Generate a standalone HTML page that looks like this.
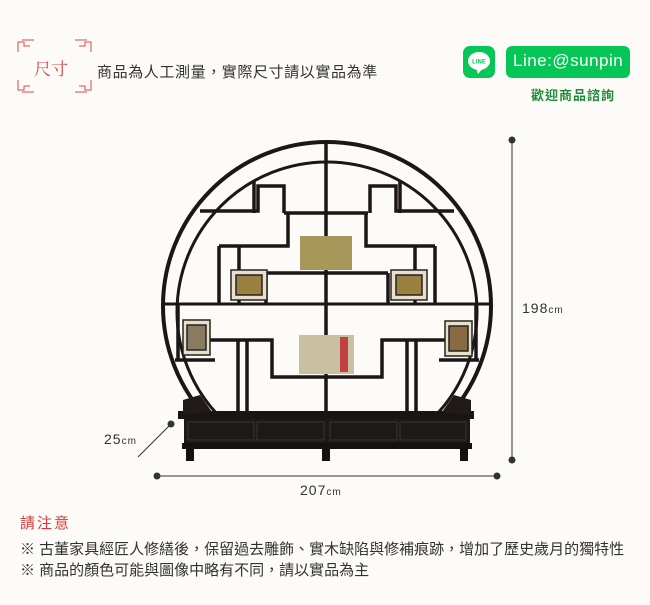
<!DOCTYPE html>
<html><head><meta charset="utf-8"><style>
body{margin:0;width:650px;height:605px;background:#fdfbf7;font-family:"Liberation Sans","Noto Sans CJK TC",sans-serif;position:relative;overflow:hidden}
.t{position:absolute;white-space:nowrap}
</style></head><body>
<svg width="650" height="605" style="position:absolute;left:0;top:0">
<g stroke="#e0434a" stroke-width="1" fill="none">
<path d="M18 52 V42 H24 V46 H30 M22 40 H34"/>
<path d="M91 52 V42 H85 V46 H79 M87 40 H75"/>
<path d="M18 80 V90 H24 V86 H30 M22 92 H34"/>
<path d="M91 80 V90 H85 V86 H79 M87 92 H75"/>
</g>
<text x="34" y="75" font-family="'Noto Serif CJK SC',serif" font-size="17" fill="#d44">尺寸</text>
<rect x="463" y="46" width="32" height="32" rx="7" fill="#06c755"/>
<ellipse cx="479" cy="61" rx="11" ry="9" fill="#fff"/>
<path d="M476 68 L478 74 L483 68Z" fill="#fff"/>
<text x="479" y="63.5" font-size="6" font-weight="bold" fill="#06c755" text-anchor="middle">LINE</text>
<rect x="506" y="46" width="124" height="32" rx="6" fill="#06c755"/>
<defs><clipPath id="c"><rect x="150" y="130" width="360" height="282"/></clipPath></defs>
<g clip-path="url(#c)" fill="none" stroke="#1c1616">
<circle cx="327" cy="306" r="164" stroke-width="4"/>
<circle cx="327" cy="312" r="150" stroke-width="3"/>
</g>
<g stroke="#1c1616" stroke-width="3.5" fill="none">
<line x1="326" y1="140" x2="326" y2="460"/>
<path d="M200 211 H258 V186 H284 V213"/><path d="M454 211 H396 V186 H370 V213"/>
<path d="M284 213 H368"/>
<path d="M219 246 H288 V213 M435 246 H366 V213"/>
<path d="M219 246 V303 M435 246 V303 M239 246 V303 M415 246 V303"/>
<path d="M266 273 H388 M266 273 V303 M388 273 V303"/>
<path d="M165 304 H489" stroke-width="3"/>
<path d="M178 304 V360 M476 304 V360 M208 340 H272 V377 H382 V340 H446"/>
<path d="M238 340 V412 M247 340 V412 M416 340 V412 M407 340 V412"/>
<path d="M175 360 H215 M479 360 H439"/>
<path d="M254 180 V213 M400 180 V213"/>
</g>
<g stroke="#222" stroke-width="1.5">
<rect x="231" y="270" width="36" height="30" fill="#e8e0c8"/><rect x="236" y="275" width="26" height="20" fill="#9a8040"/>
<rect x="391" y="270" width="36" height="30" fill="#e8e0c8"/><rect x="396" y="275" width="26" height="20" fill="#9a8040"/>
<rect x="183" y="320" width="27" height="35" fill="#e8e0c8"/><rect x="187" y="325" width="19" height="25" fill="#8a7a60"/>
<rect x="445" y="321" width="27" height="35" fill="#e8e0c8"/><rect x="449" y="326" width="19" height="25" fill="#8a6a40"/>
</g>
<rect x="300" y="236" width="52" height="34" fill="#a8975a"/>
<rect x="299" y="335" width="55" height="39" fill="#c8c0a0"/>
<rect x="340" y="337" width="8" height="35" fill="#c04040"/>
<rect x="178" y="411" width="296" height="8" fill="#1a1515"/>
<rect x="184" y="419" width="286" height="25" fill="#1e1919"/>
<g stroke="#3a3434" stroke-width="1" fill="none"><rect x="188" y="422" width="66" height="18"/><rect x="257" y="422" width="67" height="18"/><rect x="330" y="422" width="67" height="18"/><rect x="400" y="422" width="66" height="18"/></g>
<rect x="182" y="443" width="290" height="6" fill="#161111"/>
<rect x="186" y="449" width="8" height="12" fill="#161111"/><rect x="460" y="449" width="8" height="12" fill="#161111"/><rect x="322" y="449" width="8" height="12" fill="#161111"/>
<path d="M183 400 L200 395 L212 412 L183 415Z M471 400 L454 395 L442 412 L471 415Z" fill="#201a1a"/>
<g stroke="#333" stroke-width="1" fill="#333">
<line x1="512" y1="140" x2="512" y2="460"/><circle cx="512" cy="140" r="3"/><circle cx="512" cy="460" r="3"/>
<line x1="157" y1="476" x2="497" y2="476"/><circle cx="157" cy="476" r="3"/><circle cx="497" cy="476" r="3"/>
<line x1="138" y1="457" x2="171" y2="424"/><circle cx="171" cy="424" r="3"/>
</g>
</svg>
<div class="t" style="left:97px;top:61px;font-size:15px;letter-spacing:0.6px;color:#333">商品為人工測量，實際尺寸請以實品為準</div>
<div class="t" style="left:513px;top:51px;font-size:17px;color:#fff;letter-spacing:0.5px">Line:@sunpin</div>
<div class="t" style="left:531px;top:85px;font-size:13px;color:#1e8a3c;font-weight:bold;letter-spacing:1px">歡迎商品諮詢</div>
<div class="t" style="left:522px;top:300px;font-size:14px;color:#333;letter-spacing:1px">198<span style="font-size:10px">cm</span></div>
<div class="t" style="left:300px;top:482px;font-size:14px;color:#333;letter-spacing:1px">207<span style="font-size:10px">cm</span></div>
<div class="t" style="left:104px;top:431px;font-size:14px;color:#333;letter-spacing:1px">25<span style="font-size:10px">cm</span></div>
<div class="t" style="left:20px;top:512px;font-size:15px;color:#d63a3a;letter-spacing:2px">請注意</div>
<div class="t" style="left:20px;top:538px;font-size:15px;color:#333">※ 古董家具經匠人修繕後，保留過去雕飾、實木缺陷與修補痕跡，增加了歷史歲月的獨特性</div>
<div class="t" style="left:20px;top:559px;font-size:15px;color:#333">※ 商品的顏色可能與圖像中略有不同，請以實品為主</div>
</body></html>
